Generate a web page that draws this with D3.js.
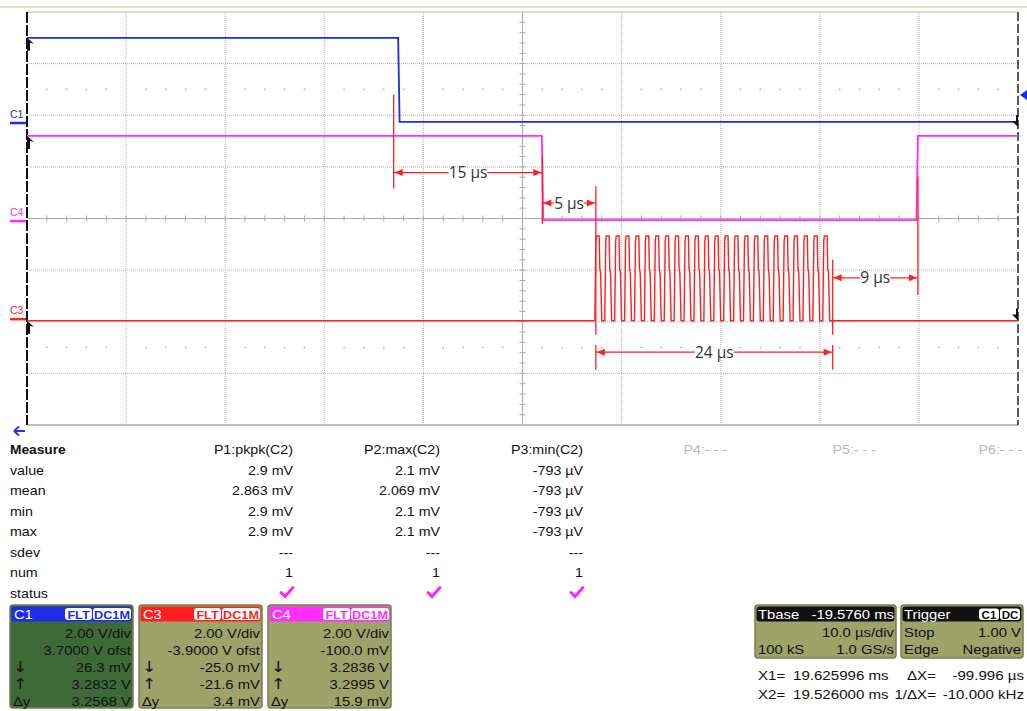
<!DOCTYPE html>
<html>
<head>
<meta charset="utf-8">
<script src="https://cdn.jsdelivr.net/npm/d3@7"></script>
<style>
  body { margin: 0; background: #fff; }
  svg { display: block; font-family: "Liberation Sans", Arial, sans-serif; }
</style>
</head>
<body>
<svg id="scope"></svg>
<script>
// time in µs (10 µs/div), level in divisions from screen centre
const c1Trace = [[0, 3.50], [37.45, 3.50], [37.6, 1.87], [100, 1.87]];
const c4Trace = [[0, 1.60], [51.95, 1.60], [52.1, -0.03], [89.75, -0.03], [89.9, 1.60], [100, 1.60]];
const c3Base = -1.98;
const c3High = -0.34;
const burstStarts = [57.3, 58.3, 59.3, 60.3, 61.3, 62.3, 63.3, 64.3, 65.3, 66.3, 67.3, 68.3,
                     69.3, 70.3, 71.3, 72.3, 73.3, 74.3, 75.3, 76.3, 77.3, 78.3, 79.3, 80.3];
// one 1 µs cycle: [phase, fraction of high level]
const burstShape = [[0, 0], [0.1, 0.94], [0.16, 1], [0.44, 1], [0.5, 0.62], [0.58, 0.56], [0.7, 0], [1, 0]];
const burstEnd = 81.3;

// red cursor lines [t, top div, bottom div]
const cursorLines = [[37.0, 2.4, 0.58], [52.0, 1.23, -0.1], [57.4, 0.63, -2.25], [81.3, -0.8, -2.25],
                     [57.4, -2.45, -2.93], [81.3, -2.45, -2.93], [89.9, 0.8, -1.48]];
// span arrows [t0, t1, level div, label]
const spanArrows = [[37.0, 52.0, 0.89, '15 µs'], [52.0, 57.4, 0.30, '5 µs'],
                    [81.3, 89.9, -1.15, '9 µs'], [57.4, 81.3, -2.59, '24 µs']];

// measurement table
const measureLabels = ['value', 'mean', 'min', 'max', 'sdev', 'num', 'status'];
const measureHeads = ['P1:pkpk(C2)', 'P2:max(C2)', 'P3:min(C2)', 'P4:- - -', 'P5:- - -', 'P6:- - -'];
const p1Vals = ['2.9 mV', '2.863 mV', '2.9 mV', '2.9 mV', '---', '1'];
const p2Vals = ['2.1 mV', '2.069 mV', '2.1 mV', '2.1 mV', '---', '1'];
const p3Vals = ['-793 µV', '-793 µV', '-793 µV', '-793 µV', '---', '1'];

// channel boxes
const chanNames  = ['C1', 'C3', 'C4'];
const chanColors = ['#1b2ee6', '#ff1f1f', '#ff2eff'];
const chanVdiv   = ['2.00 V/div', '2.00 V/div', '2.00 V/div'];
const chanOfst   = ['3.7000 V ofst', '-3.9000 V ofst', '-100.0 mV'];
const chanDown   = ['26.3 mV', '-25.0 mV', '3.2836 V'];
const chanUp     = ['3.2832 V', '-21.6 mV', '3.2995 V'];
const chanDy     = ['3.2568 V', '3.4 mV', '15.9 mV'];
const chanOfstV  = [3.7, -3.9, -0.1];
const chanVPerDiv = [2, 2, 2];

const tbaseRows = [['Tbase', '-19.5760 ms'], ['', '10.0 µs/div'], ['100 kS', '1.0 GS/s']];
const trigRows  = [['Trigger', ''], ['Stop', '1.00 V'], ['Edge', 'Negative']];
const cursorRows = [['X1=', '19.625996 ms', 'ΔX=', '-99.996 µs'], ['X2=', '19.526000 ms', '1/ΔX=', '-10.000 kHz']];

const W = 1027, H = 711;
const svg = d3.select('#scope').attr('width', W).attr('height', H);
svg.append('rect').attr('width', W).attr('height', H).attr('fill', '#fff');

// the scope screenshot has its text stretched sideways
const stext = (g, px, py, str, k, anchor = 'start') =>
  g.append('text').attr('transform', `translate(${px},${py}) scale(${k},1)`).attr('text-anchor', anchor).text(str);

const x = d3.scaleLinear().domain([0, 100]).range([27, 1018]);
const y = d3.scaleLinear().domain([-4, 4]).range([425, 12]);

svg.append('line').attr('x1', 0).attr('x2', W).attr('y1', 7).attr('y2', 7)
  .attr('stroke', '#d9dbc2').attr('stroke-width', 1.5);

// grid
const grid = svg.append('g');
d3.range(10, 100, 10).filter((t) => t !== 50).forEach((t) =>
  grid.append('line').attr('x1', x(t)).attr('x2', x(t)).attr('y1', y(4)).attr('y2', y(-4))
    .attr('stroke', '#b4b4b4').attr('stroke-dasharray', '1,1'));
d3.range(-3, 4).filter((d) => d !== 0).forEach((d) =>
  grid.append('line').attr('x1', x(0)).attr('x2', x(100)).attr('y1', y(d)).attr('y2', y(d))
    .attr('stroke', '#b4b4b4').attr('stroke-dasharray', '1,1'));
[2.5, -2.5].forEach((d) =>
  d3.range(2, 100, 2).filter((t) => t % 10 !== 0).forEach((t) =>
    grid.append('rect').attr('x', x(t) - 0.75).attr('y', y(d) - 0.75).attr('width', 1.5).attr('height', 1.5)
      .attr('fill', '#aaa')));
// centre axes with minor ticks
grid.append('line').attr('x1', x(0)).attr('x2', x(100)).attr('y1', y(0)).attr('y2', y(0)).attr('stroke', '#aaa');
grid.append('line').attr('x1', x(50)).attr('x2', x(50)).attr('y1', y(4)).attr('y2', y(-4)).attr('stroke', '#aaa');
d3.range(2, 100, 2).forEach((t) =>
  grid.append('line').attr('x1', x(t)).attr('x2', x(t)).attr('y1', y(0) - 3).attr('y2', y(0) + 3).attr('stroke', '#aaa'));
d3.range(-3.8, 4, 0.2).forEach((d) =>
  grid.append('line').attr('x1', x(50) - 3).attr('x2', x(50) + 3).attr('y1', y(d)).attr('y2', y(d)).attr('stroke', '#aaa'));
// borders
grid.append('line').attr('x1', x(0)).attr('x2', x(100)).attr('y1', y(4)).attr('y2', y(4)).attr('stroke', '#b5b5b5');
grid.append('line').attr('x1', x(0)).attr('x2', x(100)).attr('y1', y(-4)).attr('y2', y(-4)).attr('stroke', '#a8a8a8').attr('stroke-width', 1.5);
grid.append('line').attr('x1', x(0)).attr('x2', x(0)).attr('y1', y(4)).attr('y2', y(-4))
  .attr('stroke', '#111').attr('stroke-width', 2).attr('stroke-dasharray', '11,2');
grid.append('line').attr('x1', x(100)).attr('x2', x(100)).attr('y1', y(4)).attr('y2', y(-4))
  .attr('stroke', '#222').attr('stroke-width', 1.5).attr('stroke-dasharray', '9,3');

// traces
const line = d3.line().x((d) => x(d[0])).y((d) => y(d[1]));
const c3Trace = [[0, c3Base]];
burstStarts.forEach((s) => burstShape.forEach((p) =>
  c3Trace.push([s + p[0], c3Base + p[1] * (c3High - c3Base)])));
c3Trace.push([burstEnd, c3Base], [100, c3Base]);

svg.append('path').attr('d', line(c3Trace)).attr('fill', 'none').attr('stroke', chanColors[1]).attr('stroke-width', 1.4);
svg.append('path').attr('d', line(c4Trace)).attr('fill', 'none').attr('stroke', chanColors[2]).attr('stroke-width', 1.8);
svg.append('path').attr('d', line(c1Trace)).attr('fill', 'none').attr('stroke', chanColors[0]).attr('stroke-width', 1.8);

// channel ground markers + labels
chanNames.forEach((n, i) => {
  const gy = y(chanOfstV[i] / chanVPerDiv[i]);
  svg.append('line').attr('x1', 10).attr('x2', 26).attr('y1', gy).attr('y2', gy)
    .attr('stroke', chanColors[i]).attr('stroke-width', 2.5);
  svg.append('text').attr('x', 10).attr('y', gy - 5).attr('font-size', 10.5)
    .attr('fill', chanColors[i]).text(n);
});
// black level flags at left edge
[c1Trace[0][1], c4Trace[0][1], c3Base].forEach((d) => {
  const fy = y(d);
  svg.append('path').attr('d', `M27,${fy} L34,${fy + 6} L30,${fy + 5} L30,${fy + 13} L27,${fy + 13} Z`).attr('fill', '#111');
});
// right edge markers
svg.append('path').attr('d', `M1020,${y(2.39)} L1027,${y(2.39) - 5} L1027,${y(2.39) + 5} Z`).attr('fill', chanColors[0]);
[1.85, -1.9].forEach((d) => {
  const fy = y(d);
  svg.append('path').attr('d', `M1016,${fy - 8} L1018,${fy - 8} L1018,${fy + 4} L1012,${fy - 2} L1016,${fy - 2} Z`).attr('fill', '#111');
});
// blue left arrow below the grid
svg.append('path').attr('d', 'M14,431 L25,431 M14,431 L19,426.5 M14,431 L19,435.5')
  .attr('fill', 'none').attr('stroke', '#2233ee').attr('stroke-width', 1.8);

// red cursor lines and spans
const ann = svg.append('g');
cursorLines.forEach((c) =>
  ann.append('line').attr('x1', x(c[0])).attr('x2', x(c[0])).attr('y1', y(c[1])).attr('y2', y(c[2]))
    .attr('stroke', '#ff1f1f').attr('stroke-width', 1.3));
spanArrows.forEach((s) => {
  const x0 = x(s[0]), x1 = x(s[1]), yy = y(s[2]);
  ann.append('line').attr('x1', x0).attr('x2', x1).attr('y1', yy).attr('y2', yy).attr('stroke', '#ff1f1f').attr('stroke-width', 1.2);
  ann.append('path').attr('d', `M${x0 + 1},${yy} l8,-3.5 l0,7 Z`).attr('fill', '#ff1f1f');
  ann.append('path').attr('d', `M${x1 - 1},${yy} l-8,-3.5 l0,7 Z`).attr('fill', '#ff1f1f');
  const bg = ann.append('rect').attr('fill', '#fff');
  const t = ann.append('text').attr('x', (x0 + x1) / 2).attr('y', yy + 5.5).attr('text-anchor', 'middle')
    .attr('font-family', '"Open Sans", sans-serif').attr('font-size', 15.5).attr('fill', '#333').text(s[3]);
  const bb = t.node().getBBox();
  bg.attr('x', bb.x).attr('y', yy - 3).attr('width', bb.width).attr('height', 6);
});

// measurement table
const mt = svg.append('g').attr('font-size', 12.5).attr('fill', '#111');
const colRight = [293, 440, 583, 727, 876, 1022];
const rowY = (i) => 454 + i * 20.5;
stext(mt, 10, rowY(0), 'Measure', 1.1).attr('font-weight', 'bold');
measureHeads.forEach((h, i) =>
  stext(mt, colRight[i], rowY(0), h, 1.14, 'end').attr('fill', i < 3 ? '#111' : '#b8b8b8'));
measureLabels.forEach((l, i) => stext(mt, 10, rowY(i + 1), l, 1.14));
[p1Vals, p2Vals, p3Vals].forEach((vals, c) => {
  vals.forEach((v, i) => stext(mt, colRight[c], rowY(i + 1), v, 1.14, 'end'));
  const cx = colRight[c] - 6, cy = rowY(7) - 5;
  mt.append('path').attr('d', `M${cx - 6},${cy} L${cx - 2},${cy + 4} L${cx + 6},${cy - 5}`)
    .attr('fill', 'none').attr('stroke', '#ff22ff').attr('stroke-width', 3).attr('stroke-linecap', 'round');
});

// channel boxes
chanNames.forEach((n, i) => {
  const bx = 10 + i * 129, by = 605, bw = 123, bh = 103;
  const g = svg.append('g').attr('transform', `translate(${bx},${by})`).attr('font-size', 12.8).attr('fill', '#111');
  g.append('rect').attr('width', bw).attr('height', bh).attr('rx', 3)
    .attr('fill', i === 0 ? '#3d6a37' : '#9ea36a').attr('stroke', '#777c4e').attr('stroke-width', 1.5);
  g.append('rect').attr('x', 1.5).attr('y', 1.5).attr('width', bw - 3).attr('height', 15).attr('rx', 2).attr('fill', chanColors[i]);
  stext(g, 4, 14, n, 1.15).attr('fill', '#fff');
  [['FLT', 55, 27], ['DC1M', 83, 38]].forEach((b) => {
    g.append('rect').attr('x', b[1]).attr('y', 3).attr('width', b[2]).attr('height', 12).attr('rx', 3).attr('fill', '#fff');
    stext(g, b[1] + b[2] / 2, 13.5, b[0], 1.1, 'middle').attr('font-size', 11.5)
      .attr('font-weight', 'bold').attr('fill', chanColors[i]);
  });
  const rows = [['', chanVdiv[i]], ['', chanOfst[i]], ['↓', chanDown[i]], ['↑', chanUp[i]], ['Δy', chanDy[i]]];
  rows.forEach((r, k) => {
    const ty = 33 + k * 17;
    stext(g, 3, ty, r[0], 1.15).attr('font-size', k > 1 && k < 4 ? 15 : 12.8)
      .attr('font-family', k > 1 && k < 4 ? '"DejaVu Sans", sans-serif' : null);
    stext(g, bw - 2, ty, r[1], 1.16, 'end');
  });
});

// timebase and trigger boxes
[[755, 141, tbaseRows], [901, 122, trigRows]].forEach((b, bi) => {
  const g = svg.append('g').attr('transform', `translate(${b[0]},605)`).attr('font-size', 12.8);
  g.append('rect').attr('width', b[1]).attr('height', 53).attr('rx', 3).attr('fill', '#9ea36a').attr('stroke', '#777c4e').attr('stroke-width', 1.5);
  g.append('rect').attr('x', 1.5).attr('y', 1.5).attr('width', b[1] - 3).attr('height', 15).attr('rx', 3).attr('fill', '#111');
  b[2].forEach((r, k) => {
    const ty = 14 + k * 17.5;
    stext(g, 3, ty, r[0], 1.16).attr('fill', k === 0 ? '#fff' : '#111');
    stext(g, b[1] - 2, ty, r[1], 1.16, 'end').attr('fill', k === 0 ? '#fff' : '#111');
  });
  if (bi === 1) {
    [['C1', 78, 20], ['DC', 99, 20]].forEach((t) => {
      g.append('rect').attr('x', t[1]).attr('y', 3.5).attr('width', t[2]).attr('height', 11.5).attr('rx', 3).attr('fill', '#fff');
      stext(g, t[1] + t[2] / 2, 13.5, t[0], 1.05, 'middle').attr('font-size', 11)
        .attr('font-weight', 'bold').attr('fill', '#111');
    });
  }
});
cursorRows.forEach((r, k) => {
  const ty = 680 + k * 19;
  const g = svg.append('g').attr('font-size', 12.8).attr('fill', '#111');
  stext(g, 758, ty, r[0], 1.18);
  stext(g, 793, ty, r[1], 1.18);
  stext(g, 936, ty, r[2], 1.18, 'end');
  stext(g, 1024, ty, r[3], 1.18, 'end');
});
</script>
</body>
</html>
